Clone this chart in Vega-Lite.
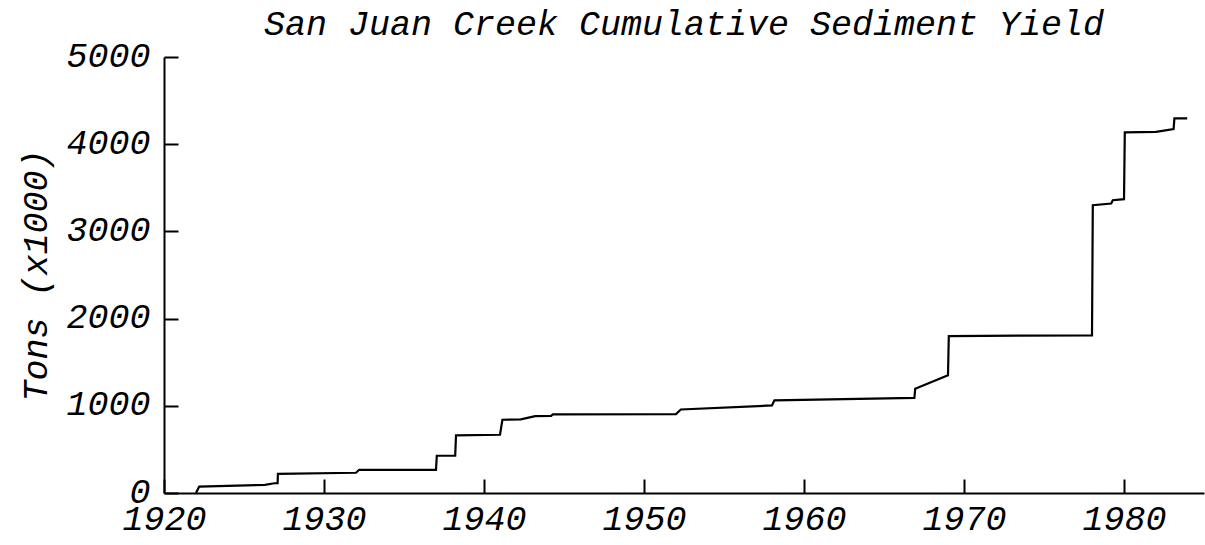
{
  "$schema": "https://vega.github.io/schema/vega-lite/v6.json",
  "autosize": "none",
  "width": 1040,
  "height": 436,
  "padding": {"left": 164, "top": 57, "right": 1, "bottom": 52},
  "background": "white",
  "title": {
    "text": "San Juan Creek Cumulative Sediment Yield",
    "font": "Liberation Mono",
    "fontStyle": "italic",
    "fontWeight": "normal",
    "fontSize": 35,
    "color": "black",
    "anchor": "middle",
    "offset": -4
  },
  "config": {
    "view": {"stroke": null},
    "axis": {
      "grid": false,
      "domainColor": "black",
      "domainWidth": 2,
      "tickColor": "black",
      "tickWidth": 2,
      "labelFlush": false,
      "labelOverlap": false,
      "labelFont": "Liberation Mono",
      "labelFontStyle": "italic",
      "labelFontSize": 35,
      "labelColor": "black",
      "titleFont": "Liberation Mono",
      "titleFontStyle": "italic",
      "titleFontWeight": "normal",
      "titleFontSize": 35,
      "titleColor": "black"
    }
  },
  "data": {
    "values": [
      {"year": 1922.0, "tons": 0},
      {"year": 1922.2, "tons": 74},
      {"year": 1926.3, "tons": 94},
      {"year": 1926.9, "tons": 112},
      {"year": 1927.1, "tons": 112},
      {"year": 1927.12, "tons": 220},
      {"year": 1932.0, "tons": 232},
      {"year": 1932.2, "tons": 266},
      {"year": 1937.0, "tons": 266},
      {"year": 1937.05, "tons": 427},
      {"year": 1938.2, "tons": 427},
      {"year": 1938.25, "tons": 660},
      {"year": 1941.0, "tons": 668},
      {"year": 1941.15, "tons": 840},
      {"year": 1942.3, "tons": 845},
      {"year": 1943.2, "tons": 882},
      {"year": 1944.2, "tons": 885},
      {"year": 1944.3, "tons": 901},
      {"year": 1952.0, "tons": 905},
      {"year": 1952.3, "tons": 958},
      {"year": 1958.0, "tons": 1004},
      {"year": 1958.15, "tons": 1062},
      {"year": 1966.9, "tons": 1090},
      {"year": 1966.95, "tons": 1196},
      {"year": 1969.0, "tons": 1349},
      {"year": 1969.05, "tons": 1800},
      {"year": 1978.0, "tons": 1808},
      {"year": 1978.05, "tons": 3301},
      {"year": 1979.2, "tons": 3320},
      {"year": 1979.3, "tons": 3358},
      {"year": 1980.0, "tons": 3370},
      {"year": 1980.05, "tons": 4135},
      {"year": 1982.0, "tons": 4142},
      {"year": 1983.1, "tons": 4173},
      {"year": 1983.15, "tons": 4296},
      {"year": 1983.95, "tons": 4296}
    ]
  },
  "mark": {"type": "line", "color": "black", "strokeWidth": 2.2, "interpolate": "linear"},
  "encoding": {
    "x": {
      "field": "year",
      "type": "quantitative",
      "scale": {"domain": [1920, 1985], "nice": false, "zero": false},
      "axis": {
        "title": null,
        "values": [1920, 1930, 1940, 1950, 1960, 1970, 1980],
        "format": "d",
        "tickSize": -14,
        "labelPadding": 22
      }
    },
    "y": {
      "field": "tons",
      "type": "quantitative",
      "scale": {"domain": [0, 5000], "nice": false},
      "axis": {
        "title": "Tons (x1000)",
        "values": [0, 1000, 2000, 3000, 4000, 5000],
        "format": "d",
        "tickSize": -14,
        "labelPadding": 28,
        "labelOffset": -2,
        "titlePadding": 12
      }
    }
  }
}
